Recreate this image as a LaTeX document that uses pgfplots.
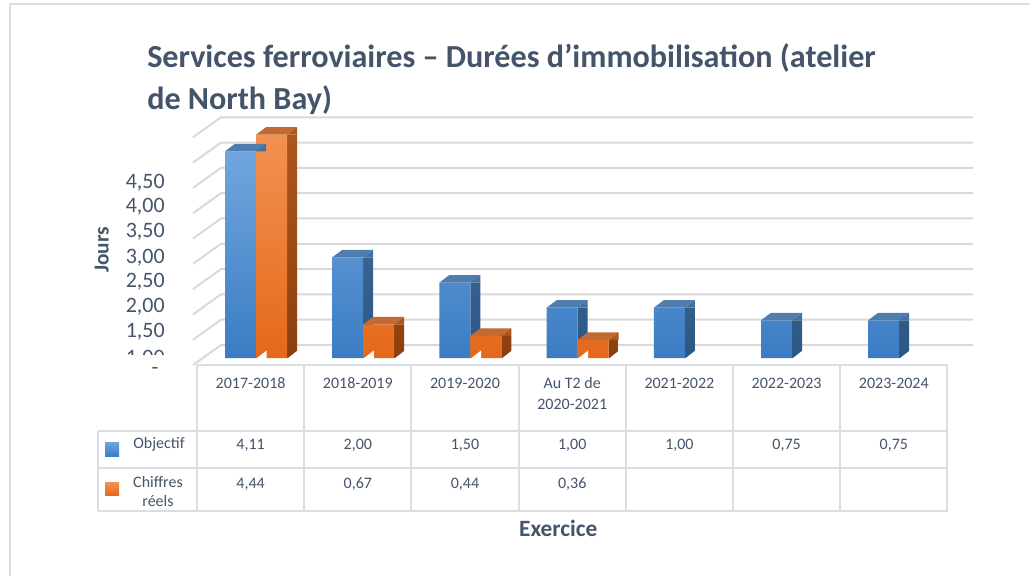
\documentclass[border=0pt]{standalone}
\usepackage{pgfplots}
\pgfplotsset{compat=1.18}
\usepackage{pgfplotstable}
\usepackage{fontspec}
\setmainfont{Carlito}

\definecolor{txt}{HTML}{44546A}
\definecolor{gridc}{HTML}{D9D9D9}
\definecolor{tabc}{HTML}{D9DEE6}
\definecolor{bFT}{HTML}{70A6DD}
\definecolor{bFB}{HTML}{3B7CC4}
\definecolor{bST}{HTML}{44719F}
\definecolor{bSB}{HTML}{2C5784}
\definecolor{bTop}{HTML}{4E7DAE}
\definecolor{oFT}{HTML}{F39152}
\definecolor{oFB}{HTML}{E4691A}
\definecolor{oST}{HTML}{AE561B}
\definecolor{oSB}{HTML}{8C3F0E}
\definecolor{oTop}{HTML}{C26A33}

\newcommand\fs[1]{\fontsize{#1}{#1}\selectfont}

% 3D top face (+ small side cap) drawn at the top centre of each bar
\pgfdeclareplotmark{bluetop}{%
  \pgfpathmoveto{\pgfqpoint{-11.625pt}{0pt}}%
  \pgfpathlineto{\pgfqpoint{-4.125pt}{5.625pt}}%
  \pgfpathlineto{\pgfqpoint{19.125pt}{5.625pt}}%
  \pgfpathlineto{\pgfqpoint{11.625pt}{0pt}}%
  \pgfpathclose
  \pgfsetfillcolor{bTop}\pgfusepath{fill}%
  \pgfpathmoveto{\pgfqpoint{11.625pt}{0pt}}%
  \pgfpathlineto{\pgfqpoint{19.125pt}{5.625pt}}%
  \pgfpathlineto{\pgfqpoint{19.125pt}{0pt}}%
  \pgfpathclose
  \pgfsetfillcolor{bST}\pgfusepath{fill}%
}
\pgfdeclareplotmark{orangetop}{%
  \pgfpathmoveto{\pgfqpoint{-11.625pt}{0pt}}%
  \pgfpathlineto{\pgfqpoint{-4.125pt}{5.625pt}}%
  \pgfpathlineto{\pgfqpoint{19.125pt}{5.625pt}}%
  \pgfpathlineto{\pgfqpoint{11.625pt}{0pt}}%
  \pgfpathclose
  \pgfsetfillcolor{oTop}\pgfusepath{fill}%
  \pgfpathmoveto{\pgfqpoint{11.625pt}{0pt}}%
  \pgfpathlineto{\pgfqpoint{19.125pt}{5.625pt}}%
  \pgfpathlineto{\pgfqpoint{19.125pt}{0pt}}%
  \pgfpathclose
  \pgfsetfillcolor{oST}\pgfusepath{fill}%
}
\pgfdeclareplotmark{bottomfix}{%
  \pgfpathmoveto{\pgfqpoint{11.625pt}{-0.6pt}}%
  \pgfpathlineto{\pgfqpoint{19.6pt}{-0.6pt}}%
  \pgfpathlineto{\pgfqpoint{19.6pt}{5.625pt}}%
  \pgfpathclose
  \pgfsetfillcolor{white}\pgfusepath{fill}%
}

\pgfplotstableread{
x v
0 4.11
1 2.00
2 1.50
3 1.00
4 1.00
5 0.75
6 0.75
}\objectif
\pgfplotstableread{
x v
0 4.44
1 0.67
2 0.44
3 0.36
}\reels

\begin{document}
\begin{tikzpicture}
\useasboundingbox (0pt,0pt) rectangle (772.5pt,431.25pt);
\begin{scope}[x=0.75pt,y=-0.75pt,shift={(0pt,431.25pt)},every node/.style={inner sep=0pt,text=txt}]
  % outer frame
  \draw[tabc,line width=1.5pt] (10,577) -- (10,4) -- (1032,4);
  % back wall grid lines with left slant
  \foreach \k in {0,...,9}{
    \draw[gridc,line width=1.5pt] (193,{365-25.3*\k}) -- (221,{345-25.3*\k}) -- (973,{345-25.3*\k});
  }
  % data table
  \draw[tabc,line width=1.5pt] (197,365) -- (947.7,365);
  \draw[tabc,line width=1.5pt] (98.3,430.7) -- (947.7,430.7);
  \draw[tabc,line width=1.5pt] (98.3,467.7) -- (947.7,467.7);
  \draw[tabc,line width=1.5pt] (98.3,510.7) -- (947.7,510.7);
  \draw[tabc,line width=1.5pt] (98.3,430.7) -- (98.3,510.7);
  \foreach \i in {0,...,7}{
    \draw[tabc,line width=1.5pt] ({197+107.2*\i},365) -- ({197+107.2*\i},510.7);
  }
  % title
  \node[anchor=base west] at (147,68) {\fs{24.1}\bfseries Services ferroviaires – Durées d’immobilisation (atelier};
  \node[anchor=base west] at (147,110) {\fs{24.1}\bfseries de North Bay)};
  % axis titles
  \node[rotate=90] at (101.7,250) {\fs{16}\bfseries Jours};
  \node[anchor=base] at (558.3,536.7) {\fs{17.5}\bfseries Exercice};
  % y tick labels
  \foreach \lab/\yb in {{4,50}/188.4, {4,00}/212.7, {3,50}/237.7, {3,00}/263.4, {2,50}/287.7, {2,00}/312.4, {1,50}/337.7}{
    \node[anchor=base east] at (165,\yb) {\fs{16.5}\lab};
  }
  \begin{scope}
    \clip (100,340) rectangle (200,354);
    \node[anchor=base east] at (165,364) {\fs{16.5}1,00};
  \end{scope}
  \node at (155,370.7) {\fs{16.5}-};
  % header row
  \foreach \lab [count=\i from 0] in {2017-2018,2018-2019,2019-2020,X,2021-2022,2022-2023,2023-2024}{
    \ifnum\i=3\else
      \node[anchor=base] at ({250.6+107.2*\i},388) {\fs{12}\lab};
    \fi
  }
  \node[anchor=base] at ({250.6+107.2*3},388) {\fs{12}Au T2 de};
  \node[anchor=base] at ({250.6+107.2*3},409) {\fs{12}2020-2021};
  % legend column
  \shade[top color=bFT,bottom color=bFB] (105,442) rectangle (119,456);
  \shade[top color=oFT,bottom color=oFB] (105,482) rectangle (119,495.5);
  \node[anchor=base] at (159,448) {\fs{12}Objectif};
  \node[anchor=base] at (158,487) {\fs{12}Chiffres};
  \node[anchor=base] at (158,506.5) {\fs{12}réels};
  % values
  \foreach \val [count=\i from 0] in {{4,11},{2,00},{1,50},{1,00},{1,00},{0,75},{0,75}}{
    \node[anchor=base] at ({250.6+107.2*\i},449) {\fs{12}\val};
  }
  \foreach \val [count=\i from 0] in {{4,44},{0,67},{0,44},{0,36}}{
    \node[anchor=base] at ({250.6+107.2*\i},488) {\fs{12}\val};
  }
\end{scope}

\begin{axis}[
  at={(0pt,0pt)}, anchor=south west,
  width=772.5pt, height=431.25pt, scale only axis,
  hide axis, clip=false,
  xmin=-2.3368, xmax=7.2715,
  ymin=-4.3141, ymax=7.1173,
]
  % Objectif
  \addplot[ybar, bar shift=0pt, bar width=0.0933, draw=none, top color=bST, bottom color=bSB]
    table[x expr=\thisrow{x}+0.098, y=v]{\objectif};
  \addplot[only marks, mark=bottomfix] table[x expr=\thisrow{x}-0.0933, y expr=0]{\objectif};
  \addplot[ybar, bar shift=0pt, bar width=0.289, draw=none, top color=bFT, bottom color=bFB]
    table[x expr=\thisrow{x}-0.0933, y=v]{\objectif};
  \addplot[only marks, mark=bluetop] table[x expr=\thisrow{x}-0.0933, y=v]{\objectif};
  % Chiffres reels
  \addplot[ybar, bar shift=0pt, bar width=0.0933, draw=none, top color=oST, bottom color=oSB]
    table[x expr=\thisrow{x}+0.3873, y=v]{\reels};
  \addplot[only marks, mark=bottomfix] table[x expr=\thisrow{x}+0.196, y expr=0]{\reels};
  \addplot[ybar, bar shift=0pt, bar width=0.289, draw=none, top color=oFT, bottom color=oFB]
    table[x expr=\thisrow{x}+0.196, y=v]{\reels};
  \addplot[only marks, mark=orangetop] table[x expr=\thisrow{x}+0.196, y=v]{\reels};
\end{axis}
\end{tikzpicture}
\end{document}
